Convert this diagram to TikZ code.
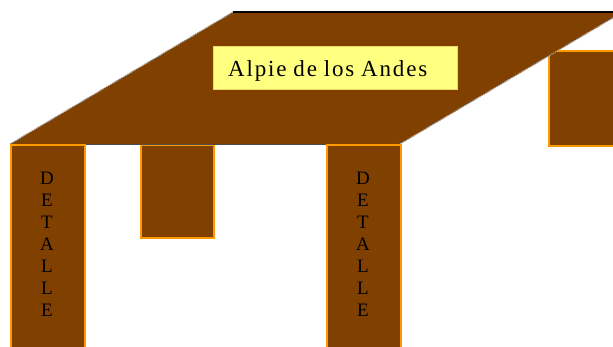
\documentclass[tikz,border=0pt]{standalone}
\usepackage{fontspec}
\setmainfont{Liberation Serif}
\newfontfamily\titlefont[LetterSpace=8,WordSpace=0.9]{Liberation Serif}
\usetikzlibrary{positioning}

\definecolor{woodbrown}{RGB}{128,64,0}
\definecolor{legorange}{RGB}{255,153,0}
\definecolor{labelyellow}{RGB}{255,255,128}

\begin{document}
\begin{tikzpicture}[
        x = 1pt, y = -1pt,
        leg/.style = {draw = legorange, fill = woodbrown, line width = 1.5pt,
            rectangle, anchor = north west, inner sep = 0pt},
        rim/.style = {draw = gray!70, line width = 1.2pt, densely dotted},
        tag/.style = {draw = labelyellow!70!brown, fill = labelyellow, inner sep = 0pt,
            minimum width = 244pt, minimum height = 43pt, anchor = north west},
        detail/.style = {align = center, anchor = north, inner sep = 0pt,
            font = \fontsize{19}{22}\selectfont}
    ]
      \useasboundingbox (0,0) rectangle (613,346);
      \clip (0,0) rectangle (613,346);
      % legs behind the top
      \node[leg, minimum width = 80pt, minimum height = 95pt] (backleg) at (548,50) {};
      \node[leg, minimum width = 73pt, minimum height = 93pt] (midleg) at (140,144) {};
      % table top
      \coordinate (tl) at (233,12);
      \coordinate (tr) at (623,12);
      \coordinate (br) at (400,144);
      \coordinate (bl) at (10,144);
      \fill[woodbrown] (bl) -- (tl) -- (tr) -- (br) -- cycle;
      \draw[black, line width = 1.2pt] (tl) -- (tr);
      \draw[gray!60!black, line width = 1pt] (bl) -- (br);
      \draw[rim] (bl) -- (tl);
      \draw[rim] (br) -- (tr);
      % front legs
      \node[leg, minimum width = 74pt, minimum height = 215pt] (leftleg) at (10,144) {};
      \node[leg, minimum width = 74pt, minimum height = 215pt] (rightleg) at (326,144) {};
      % labels
      \node[tag] (name) at (213,46) {};
      \node[anchor = base west, inner sep = 0pt, font = \titlefont\fontsize{23}{27}\selectfont]
        (nametext) at (228,76) {Alpie de los Andes};
      \node[detail] (leftdetail) at (47,172) {D\\E\\T\\A\\L\\L\\E};
      \node[detail] (rightdetail) at (363,172) {D\\E\\T\\A\\L\\L\\E};
\end{tikzpicture}
\end{document}
